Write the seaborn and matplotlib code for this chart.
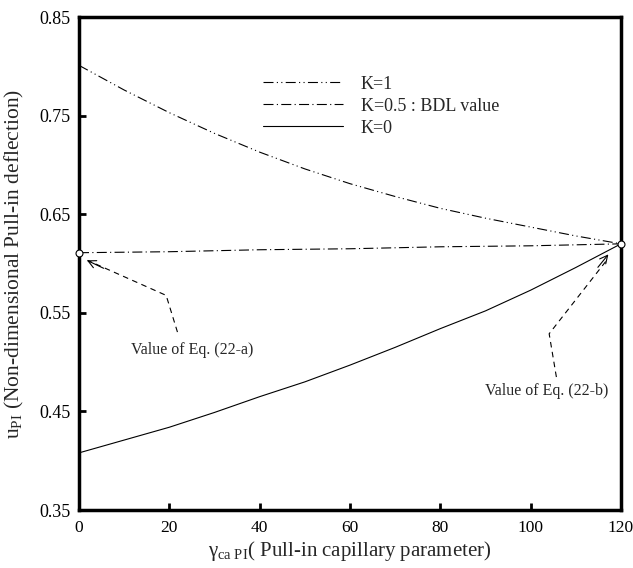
import matplotlib
matplotlib.use("Agg")
import matplotlib.pyplot as plt
import seaborn as sns
import pandas as pd

gamma = [0, 10, 20, 30, 40, 50, 60, 70, 80, 90, 100, 110, 120]
u_k1 = [0.801, 0.776, 0.753, 0.732, 0.713, 0.696, 0.681, 0.668, 0.656, 0.646, 0.637, 0.628, 0.620]
u_k05 = [0.611, 0.6115, 0.612, 0.613, 0.614, 0.6145, 0.615, 0.616, 0.617, 0.6175, 0.618, 0.619, 0.620]
u_k0 = [0.408, 0.421, 0.434, 0.449, 0.465, 0.480, 0.497, 0.515, 0.534, 0.552, 0.573, 0.596, 0.620]
series_labels = ["K=1", "K=0.5 : BDL value", "K=0"]
x_ticks = [0, 20, 40, 60, 80, 100, 120]
y_ticks = [0.35, 0.45, 0.55, 0.65, 0.75, 0.85]
end_points_x = [0, 120]
end_points_y = [0.611, 0.620]

sns.set_style("white")
plt.rcParams['font.family'] = ['Liberation Serif', 'DejaVu Serif']
plt.rcParams['mathtext.fontset'] = 'custom'
plt.rcParams['mathtext.rm'] = 'Liberation Serif'
plt.rcParams['mathtext.it'] = 'Liberation Serif:italic'

df = pd.DataFrame({
    "gamma": gamma * 3,
    "u": u_k1 + u_k05 + u_k0,
    "K": [series_labels[0]] * len(gamma) + [series_labels[1]] * len(gamma) + [series_labels[2]] * len(gamma),
})

fig = plt.figure(figsize=(6.33, 5.68), dpi=100)
ax = fig.add_axes([0.1248, 0.102, 0.8562, 0.868])

styles = {series_labels[0]: (0, (9, 3, 1, 3, 1, 3)),
          series_labels[1]: (0, (9, 3, 1, 3)),
          series_labels[2]: "-"}
for lab in series_labels:
    sub = df[df["K"] == lab]
    sns.lineplot(data=sub, x="gamma", y="u", ax=ax, color="black", lw=0.8,
                 linestyle=styles[lab], label=lab, legend=False)

ax.plot(end_points_x, end_points_y, 'o', mfc='white', mec='black', ms=5, mew=0.8,
        clip_on=False, zorder=5)

ax.set_xlim(0, 120)
ax.set_ylim(0.35, 0.85)
ax.set_xticks(x_ticks)
ax.set_yticks(y_ticks)
ax.set_xticklabels([str(t) for t in x_ticks])
ax.set_yticklabels([f"{t:.2f}" for t in y_ticks])
ax.tick_params(axis='both', direction='in', length=5, width=2, labelsize=13,
               colors='black', left=True, bottom=True, top=False, right=False, pad=6)
ax.tick_params(axis='x', labelsize=12.5, pad=7)
for sp in ax.spines.values():
    sp.set_linewidth(2.5)
    sp.set_color('black')

ax.set_xlabel(r"γ$_{\rm ca\ PI}$( Pull-in capillary parameter)", fontsize=15)
ax.xaxis.set_label_coords(0.5, -0.058)
ax.set_ylabel(r"u$_{\rm PI}$ (Non-dimensional Pull-in deflection)", fontsize=15.5)
ax.yaxis.set_label_coords(-0.097, 0.5)

handles = ax.get_lines()[:3]
leg = ax.legend(handles, series_labels, loc='upper left', bbox_to_anchor=(0.31, 0.914),
                frameon=False, fontsize=13, handlelength=4.4, handletextpad=1.0,
                labelspacing=0.28)

# annotations with dashed polyline arrows
ax.plot([21.8, 19.3, 1.9], [0.5305, 0.5677, 0.6032], color='black', lw=0.8,
        linestyle=(0, (5, 4)))
ax.annotate("", xy=(1.2, 0.6045), xytext=(6.0, 0.594),
            arrowprops=dict(arrowstyle='->', color='black', lw=0.8, mutation_scale=14))
ax.text(11.5, 0.512, "Value of Eq. (22-a)", fontsize=11.5, va='center', ha='left')

ax.plot([105.7, 104.1, 117.1], [0.4849, 0.5288, 0.6049], color='black', lw=0.8,
        linestyle=(0, (5, 4)))
ax.annotate("", xy=(117.6, 0.6115), xytext=(114.5, 0.594),
            arrowprops=dict(arrowstyle='->', color='black', lw=0.8, mutation_scale=14))
ax.text(90.0, 0.471, "Value of Eq. (22-b)", fontsize=11.5, va='center', ha='left')

fig.savefig("out.png", dpi=100)
